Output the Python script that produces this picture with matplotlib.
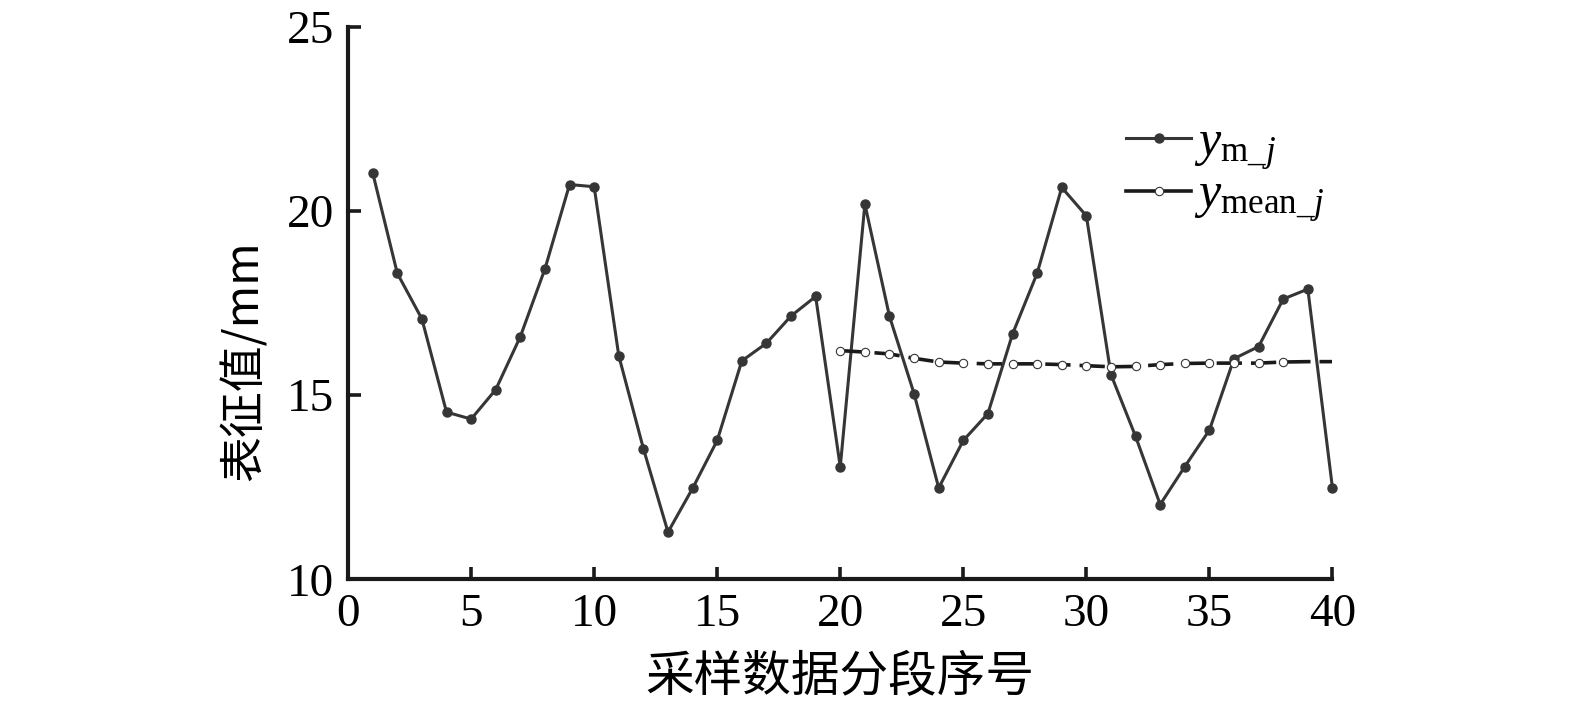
import numpy as np
import matplotlib
matplotlib.use('Agg')
import matplotlib.pyplot as plt

plt.rcParams['font.family'] = ['Liberation Serif', 'Noto Sans CJK SC']
plt.rcParams['mathtext.fontset'] = 'custom'
plt.rcParams['mathtext.rm'] = 'Liberation Serif'
plt.rcParams['mathtext.it'] = 'Liberation Serif:italic'

# Datos
seg = np.arange(1, 41)
y_m = [21.04, 18.31, 17.07, 14.54, 14.35, 15.15, 16.59, 18.43, 20.72, 20.66,
       16.07, 13.55, 11.28, 12.47, 13.77, 15.93, 16.41, 17.15, 17.68, 13.05,
       20.19, 17.14, 15.04, 12.48, 13.77, 14.50, 16.66, 18.31, 20.64, 19.87,
       15.56, 13.88, 12.03, 13.06, 14.05, 15.99, 16.32, 17.61, 17.88, 12.48]
seg_mean = np.arange(20, 41)
y_mean = [16.21, 16.17, 16.12, 16.00, 15.90, 15.87, 15.85, 15.85, 15.85, 15.83,
          15.80, 15.77, 15.78, 15.83, 15.86, 15.87, 15.87, 15.87, 15.90, 15.91,
          15.91]

c = '#363636'
fig = plt.figure(figsize=(15.75, 7.09), dpi=100)
ax = fig.add_axes([0.221, 0.183, 0.625, 0.779])

ax.plot(seg, y_m, '-', color=c, lw=2.2, marker='o', ms=6.5, mfc=c, mec=c,
        label=r'$y_{\mathrm{m\_}j}$', zorder=3, clip_on=False)
ax.plot(seg_mean, y_mean, color='#1a1a1a', lw=2.6, ls=(0, (7, 2.5)),
        marker='o', ms=6, mfc='white', mec=c, mew=0.8,
        markevery=slice(0, 19), label=r'$y_{\mathrm{mean\_}j}$', zorder=4)

ax.set_xlim(0, 40); ax.set_xticks(np.arange(0, 41, 5))
ax.set_ylim(10, 25); ax.set_yticks(np.arange(10, 26, 5))
for s in ['top', 'right']:
    ax.spines[s].set_visible(False)
for s in ['left', 'bottom']:
    ax.spines[s].set_linewidth(3)
    ax.spines[s].set_color('#1a1a1a')
ax.tick_params(direction='in', length=9, width=2.6, labelsize=34, pad=10,
               color='#1a1a1a')
ax.set_xlabel('采样数据分段序号', fontsize=35, family=['Noto Sans CJK SC'], labelpad=12)
ax.set_ylabel('表征值/mm', fontsize=33, family=['Noto Sans CJK SC', 'Liberation Serif'])
ax.yaxis.set_label_coords(-0.08, 0.396)

leg = ax.legend(loc='upper right', bbox_to_anchor=(1.022, 0.885), frameon=False,
                fontsize=36, handlelength=1.3, handletextpad=0.05,
                labelspacing=0.0, borderaxespad=0.2)
for ln in leg.get_lines():
    ln.set_linestyle('-')

fig.savefig('out.png', dpi=100)
